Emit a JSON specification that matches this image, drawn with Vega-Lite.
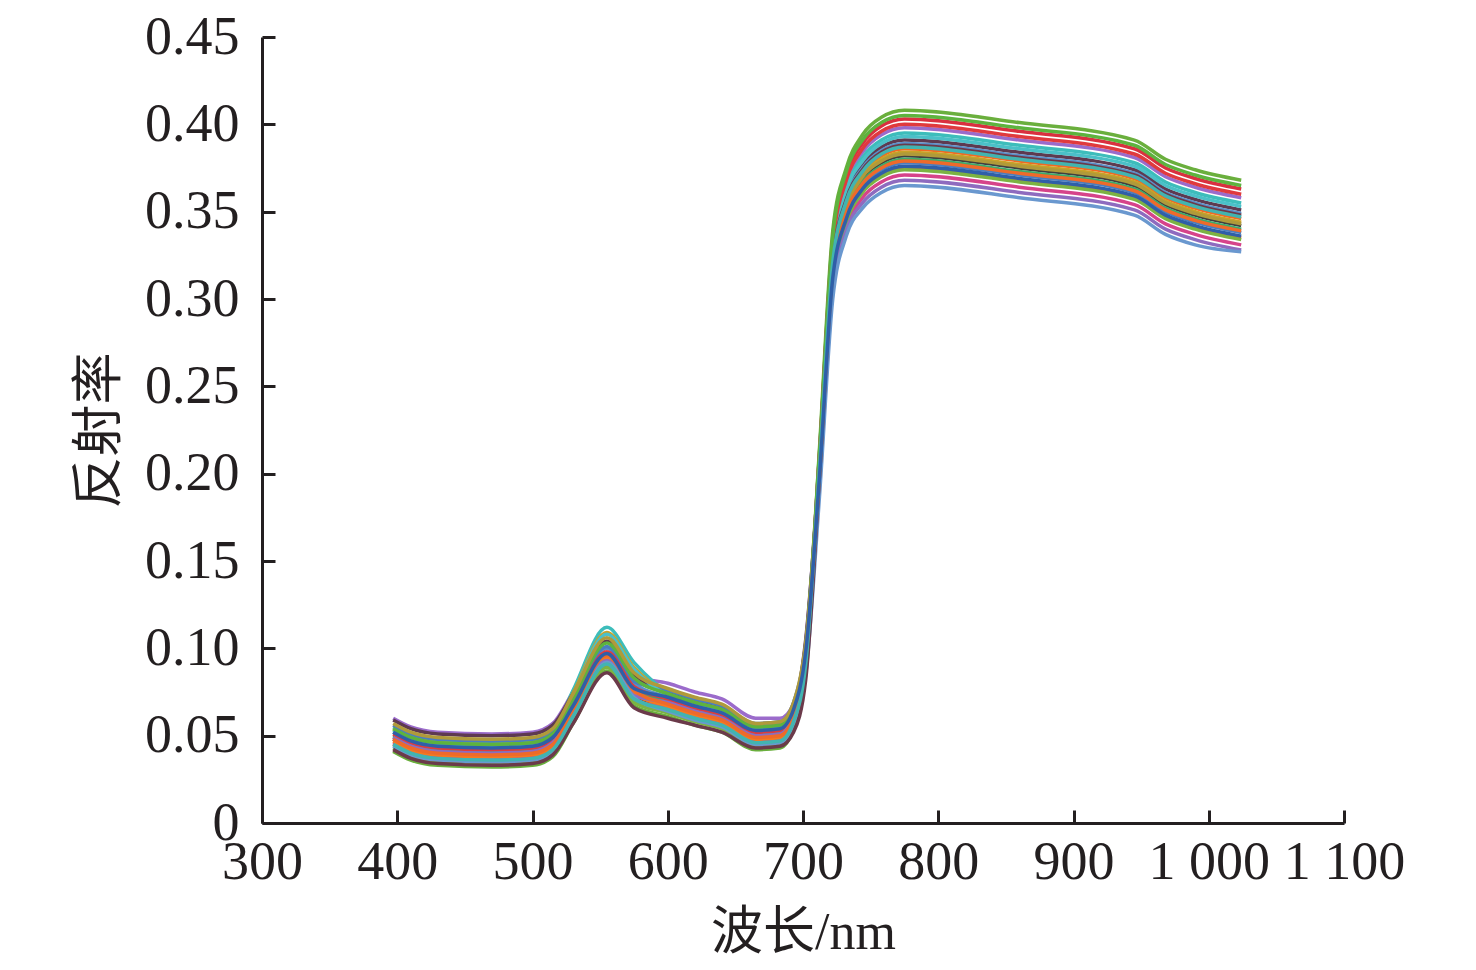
{
  "$schema": "https://vega.github.io/schema/vega-lite/v6.json",
  "description": "Reflectance spectra of leaf samples, 400-1024 nm.",
  "width": 1082,
  "height": 786,
  "autosize": "none",
  "padding": {"left": 262, "top": 37, "right": 132, "bottom": 147},
  "background": "white",
  "config": {
    "view": {"stroke": null},
    "axis": {
      "grid": false,
      "domainColor": "#231F20",
      "domainWidth": 3,
      "tickColor": "#231F20",
      "tickWidth": 3,
      "tickSize": -13,
      "labelFont": "Liberation Serif",
      "labelFontSize": 54,
      "labelColor": "#231F20",
      "titleFont": "Liberation Serif, Noto Sans CJK SC",
      "titleFontSize": 52,
      "titleFontWeight": "normal",
      "titleColor": "#231F20"
    }
  },
  "data": {
    "values": [
      {"c":"a","w":397,"r":0.041},{"c":"a","w":410,"r":0.036},{"c":"a","w":430,"r":0.033},{"c":"a","w":470,"r":0.032},{"c":"a","w":500,"r":0.033},{"c":"a","w":515,"r":0.038},{"c":"a","w":530,"r":0.057},{"c":"a","w":555,"r":0.087},{"c":"a","w":575,"r":0.067},{"c":"a","w":600,"r":0.061},{"c":"a","w":620,"r":0.056},{"c":"a","w":640,"r":0.052},{"c":"a","w":665,"r":0.042},{"c":"a","w":683,"r":0.043},{"c":"a","w":693,"r":0.054},{"c":"a","w":702,"r":0.087},{"c":"a","w":712,"r":0.212},{"c":"a","w":722,"r":0.339},{"c":"a","w":732,"r":0.375},{"c":"a","w":744,"r":0.394},{"c":"a","w":758,"r":0.404},{"c":"a","w":775,"r":0.408},{"c":"a","w":860,"r":0.401},{"c":"a","w":945,"r":0.391},{"c":"a","w":968,"r":0.380},{"c":"a","w":990,"r":0.374},{"c":"a","w":1024,"r":0.368},
      {"c":"b","w":397,"r":0.049},{"c":"b","w":410,"r":0.044},{"c":"b","w":430,"r":0.041},{"c":"b","w":470,"r":0.040},{"c":"b","w":500,"r":0.041},{"c":"b","w":515,"r":0.046},{"c":"b","w":530,"r":0.067},{"c":"b","w":555,"r":0.100},{"c":"b","w":575,"r":0.080},{"c":"b","w":600,"r":0.069},{"c":"b","w":620,"r":0.064},{"c":"b","w":640,"r":0.060},{"c":"b","w":665,"r":0.050},{"c":"b","w":683,"r":0.051},{"c":"b","w":693,"r":0.062},{"c":"b","w":702,"r":0.095},{"c":"b","w":712,"r":0.209},{"c":"b","w":722,"r":0.334},{"c":"b","w":732,"r":0.371},{"c":"b","w":744,"r":0.389},{"c":"b","w":758,"r":0.399},{"c":"b","w":775,"r":0.403},{"c":"b","w":860,"r":0.396},{"c":"b","w":945,"r":0.386},{"c":"b","w":968,"r":0.375},{"c":"b","w":990,"r":0.369},{"c":"b","w":1024,"r":0.363},
      {"c":"c","w":397,"r":0.060},{"c":"c","w":410,"r":0.055},{"c":"c","w":430,"r":0.052},{"c":"c","w":470,"r":0.051},{"c":"c","w":500,"r":0.052},{"c":"c","w":515,"r":0.057},{"c":"c","w":530,"r":0.075},{"c":"c","w":555,"r":0.104},{"c":"c","w":575,"r":0.084},{"c":"c","w":600,"r":0.080},{"c":"c","w":620,"r":0.075},{"c":"c","w":640,"r":0.071},{"c":"c","w":665,"r":0.060},{"c":"c","w":683,"r":0.060},{"c":"c","w":693,"r":0.068},{"c":"c","w":702,"r":0.103},{"c":"c","w":712,"r":0.207},{"c":"c","w":722,"r":0.330},{"c":"c","w":732,"r":0.366},{"c":"c","w":744,"r":0.384},{"c":"c","w":758,"r":0.394},{"c":"c","w":775,"r":0.398},{"c":"c","w":860,"r":0.391},{"c":"c","w":945,"r":0.381},{"c":"c","w":968,"r":0.370},{"c":"c","w":990,"r":0.364},{"c":"c","w":1024,"r":0.358},
      {"c":"d","w":397,"r":0.055},{"c":"d","w":410,"r":0.050},{"c":"d","w":430,"r":0.047},{"c":"d","w":470,"r":0.046},{"c":"d","w":500,"r":0.047},{"c":"d","w":515,"r":0.052},{"c":"d","w":530,"r":0.076},{"c":"d","w":555,"r":0.112},{"c":"d","w":575,"r":0.092},{"c":"d","w":600,"r":0.075},{"c":"d","w":620,"r":0.070},{"c":"d","w":640,"r":0.066},{"c":"d","w":665,"r":0.056},{"c":"d","w":683,"r":0.057},{"c":"d","w":693,"r":0.068},{"c":"d","w":702,"r":0.101},{"c":"d","w":712,"r":0.205},{"c":"d","w":722,"r":0.328},{"c":"d","w":732,"r":0.363},{"c":"d","w":744,"r":0.381},{"c":"d","w":758,"r":0.391},{"c":"d","w":775,"r":0.395},{"c":"d","w":860,"r":0.388},{"c":"d","w":945,"r":0.378},{"c":"d","w":968,"r":0.367},{"c":"d","w":990,"r":0.361},{"c":"d","w":1024,"r":0.355},
      {"c":"e","w":397,"r":0.059},{"c":"e","w":410,"r":0.054},{"c":"e","w":430,"r":0.051},{"c":"e","w":470,"r":0.050},{"c":"e","w":500,"r":0.051},{"c":"e","w":515,"r":0.056},{"c":"e","w":530,"r":0.074},{"c":"e","w":555,"r":0.104},{"c":"e","w":575,"r":0.084},{"c":"e","w":600,"r":0.076},{"c":"e","w":620,"r":0.071},{"c":"e","w":640,"r":0.066},{"c":"e","w":665,"r":0.055},{"c":"e","w":683,"r":0.056},{"c":"e","w":693,"r":0.066},{"c":"e","w":702,"r":0.105},{"c":"e","w":712,"r":0.203},{"c":"e","w":722,"r":0.325},{"c":"e","w":732,"r":0.360},{"c":"e","w":744,"r":0.377},{"c":"e","w":758,"r":0.387},{"c":"e","w":775,"r":0.391},{"c":"e","w":860,"r":0.384},{"c":"e","w":945,"r":0.374},{"c":"e","w":968,"r":0.363},{"c":"e","w":990,"r":0.357},{"c":"e","w":1024,"r":0.351},
      {"c":"f","w":397,"r":0.052},{"c":"f","w":410,"r":0.047},{"c":"f","w":430,"r":0.044},{"c":"f","w":470,"r":0.043},{"c":"f","w":500,"r":0.044},{"c":"f","w":515,"r":0.049},{"c":"f","w":530,"r":0.069},{"c":"f","w":555,"r":0.100},{"c":"f","w":575,"r":0.080},{"c":"f","w":600,"r":0.072},{"c":"f","w":620,"r":0.067},{"c":"f","w":640,"r":0.063},{"c":"f","w":665,"r":0.053},{"c":"f","w":683,"r":0.054},{"c":"f","w":693,"r":0.065},{"c":"f","w":702,"r":0.098},{"c":"f","w":712,"r":0.202},{"c":"f","w":722,"r":0.323},{"c":"f","w":732,"r":0.358},{"c":"f","w":744,"r":0.375},{"c":"f","w":758,"r":0.385},{"c":"f","w":775,"r":0.389},{"c":"f","w":860,"r":0.382},{"c":"f","w":945,"r":0.372},{"c":"f","w":968,"r":0.361},{"c":"f","w":990,"r":0.355},{"c":"f","w":1024,"r":0.349},
      {"c":"g","w":397,"r":0.045},{"c":"g","w":410,"r":0.040},{"c":"g","w":430,"r":0.037},{"c":"g","w":470,"r":0.036},{"c":"g","w":500,"r":0.037},{"c":"g","w":515,"r":0.042},{"c":"g","w":530,"r":0.063},{"c":"g","w":555,"r":0.095},{"c":"g","w":575,"r":0.075},{"c":"g","w":600,"r":0.065},{"c":"g","w":620,"r":0.060},{"c":"g","w":640,"r":0.056},{"c":"g","w":665,"r":0.046},{"c":"g","w":683,"r":0.047},{"c":"g","w":693,"r":0.058},{"c":"g","w":702,"r":0.091},{"c":"g","w":712,"r":0.201},{"c":"g","w":722,"r":0.320},{"c":"g","w":732,"r":0.355},{"c":"g","w":744,"r":0.372},{"c":"g","w":758,"r":0.382},{"c":"g","w":775,"r":0.386},{"c":"g","w":860,"r":0.379},{"c":"g","w":945,"r":0.369},{"c":"g","w":968,"r":0.358},{"c":"g","w":990,"r":0.352},{"c":"g","w":1024,"r":0.346},
      {"c":"h","w":397,"r":0.054},{"c":"h","w":410,"r":0.049},{"c":"h","w":430,"r":0.046},{"c":"h","w":470,"r":0.045},{"c":"h","w":500,"r":0.046},{"c":"h","w":515,"r":0.051},{"c":"h","w":530,"r":0.074},{"c":"h","w":555,"r":0.109},{"c":"h","w":575,"r":0.089},{"c":"h","w":600,"r":0.074},{"c":"h","w":620,"r":0.069},{"c":"h","w":640,"r":0.065},{"c":"h","w":665,"r":0.055},{"c":"h","w":683,"r":0.056},{"c":"h","w":693,"r":0.067},{"c":"h","w":702,"r":0.100},{"c":"h","w":712,"r":0.200},{"c":"h","w":722,"r":0.319},{"c":"h","w":732,"r":0.353},{"c":"h","w":744,"r":0.371},{"c":"h","w":758,"r":0.380},{"c":"h","w":775,"r":0.384},{"c":"h","w":860,"r":0.377},{"c":"h","w":945,"r":0.367},{"c":"h","w":968,"r":0.356},{"c":"h","w":990,"r":0.350},{"c":"h","w":1024,"r":0.344},
      {"c":"i","w":397,"r":0.048},{"c":"i","w":410,"r":0.043},{"c":"i","w":430,"r":0.040},{"c":"i","w":470,"r":0.039},{"c":"i","w":500,"r":0.040},{"c":"i","w":515,"r":0.045},{"c":"i","w":530,"r":0.063},{"c":"i","w":555,"r":0.092},{"c":"i","w":575,"r":0.072},{"c":"i","w":600,"r":0.068},{"c":"i","w":620,"r":0.063},{"c":"i","w":640,"r":0.059},{"c":"i","w":665,"r":0.049},{"c":"i","w":683,"r":0.050},{"c":"i","w":693,"r":0.061},{"c":"i","w":702,"r":0.094},{"c":"i","w":712,"r":0.199},{"c":"i","w":722,"r":0.317},{"c":"i","w":732,"r":0.351},{"c":"i","w":744,"r":0.369},{"c":"i","w":758,"r":0.378},{"c":"i","w":775,"r":0.382},{"c":"i","w":860,"r":0.375},{"c":"i","w":945,"r":0.365},{"c":"i","w":968,"r":0.354},{"c":"i","w":990,"r":0.348},{"c":"i","w":1024,"r":0.342},
      {"c":"j","w":397,"r":0.050},{"c":"j","w":410,"r":0.045},{"c":"j","w":430,"r":0.042},{"c":"j","w":470,"r":0.041},{"c":"j","w":500,"r":0.042},{"c":"j","w":515,"r":0.047},{"c":"j","w":530,"r":0.066},{"c":"j","w":555,"r":0.097},{"c":"j","w":575,"r":0.077},{"c":"j","w":600,"r":0.070},{"c":"j","w":620,"r":0.065},{"c":"j","w":640,"r":0.061},{"c":"j","w":665,"r":0.051},{"c":"j","w":683,"r":0.052},{"c":"j","w":693,"r":0.063},{"c":"j","w":702,"r":0.096},{"c":"j","w":712,"r":0.198},{"c":"j","w":722,"r":0.315},{"c":"j","w":732,"r":0.350},{"c":"j","w":744,"r":0.367},{"c":"j","w":758,"r":0.376},{"c":"j","w":775,"r":0.380},{"c":"j","w":860,"r":0.373},{"c":"j","w":945,"r":0.363},{"c":"j","w":968,"r":0.352},{"c":"j","w":990,"r":0.346},{"c":"j","w":1024,"r":0.340},
      {"c":"k","w":397,"r":0.046},{"c":"k","w":410,"r":0.041},{"c":"k","w":430,"r":0.038},{"c":"k","w":470,"r":0.037},{"c":"k","w":500,"r":0.038},{"c":"k","w":515,"r":0.043},{"c":"k","w":530,"r":0.061},{"c":"k","w":555,"r":0.090},{"c":"k","w":575,"r":0.070},{"c":"k","w":600,"r":0.066},{"c":"k","w":620,"r":0.061},{"c":"k","w":640,"r":0.057},{"c":"k","w":665,"r":0.047},{"c":"k","w":683,"r":0.048},{"c":"k","w":693,"r":0.059},{"c":"k","w":702,"r":0.092},{"c":"k","w":712,"r":0.193},{"c":"k","w":722,"r":0.308},{"c":"k","w":732,"r":0.341},{"c":"k","w":744,"r":0.358},{"c":"k","w":758,"r":0.367},{"c":"k","w":775,"r":0.371},{"c":"k","w":860,"r":0.364},{"c":"k","w":945,"r":0.354},{"c":"k","w":968,"r":0.343},{"c":"k","w":990,"r":0.337},{"c":"k","w":1024,"r":0.331},
      {"c":"l","w":397,"r":0.056},{"c":"l","w":410,"r":0.051},{"c":"l","w":430,"r":0.048},{"c":"l","w":470,"r":0.047},{"c":"l","w":500,"r":0.048},{"c":"l","w":515,"r":0.053},{"c":"l","w":530,"r":0.071},{"c":"l","w":555,"r":0.101},{"c":"l","w":575,"r":0.081},{"c":"l","w":600,"r":0.076},{"c":"l","w":620,"r":0.071},{"c":"l","w":640,"r":0.067},{"c":"l","w":665,"r":0.057},{"c":"l","w":683,"r":0.058},{"c":"l","w":693,"r":0.069},{"c":"l","w":702,"r":0.102},{"c":"l","w":712,"r":0.197},{"c":"l","w":722,"r":0.314},{"c":"l","w":732,"r":0.348},{"c":"l","w":744,"r":0.365},{"c":"l","w":758,"r":0.374},{"c":"l","w":775,"r":0.378},{"c":"l","w":860,"r":0.371},{"c":"l","w":945,"r":0.361},{"c":"l","w":968,"r":0.350},{"c":"l","w":990,"r":0.344},{"c":"l","w":1024,"r":0.338},
      {"c":"m","w":397,"r":0.047},{"c":"m","w":410,"r":0.042},{"c":"m","w":430,"r":0.039},{"c":"m","w":470,"r":0.038},{"c":"m","w":500,"r":0.039},{"c":"m","w":515,"r":0.044},{"c":"m","w":530,"r":0.063},{"c":"m","w":555,"r":0.094},{"c":"m","w":575,"r":0.074},{"c":"m","w":600,"r":0.067},{"c":"m","w":620,"r":0.062},{"c":"m","w":640,"r":0.058},{"c":"m","w":665,"r":0.048},{"c":"m","w":683,"r":0.049},{"c":"m","w":693,"r":0.060},{"c":"m","w":702,"r":0.093},{"c":"m","w":712,"r":0.195},{"c":"m","w":722,"r":0.311},{"c":"m","w":732,"r":0.345},{"c":"m","w":744,"r":0.362},{"c":"m","w":758,"r":0.371},{"c":"m","w":775,"r":0.375},{"c":"m","w":860,"r":0.368},{"c":"m","w":945,"r":0.358},{"c":"m","w":968,"r":0.347},{"c":"m","w":990,"r":0.341},{"c":"m","w":1024,"r":0.335},
      {"c":"n","w":397,"r":0.043},{"c":"n","w":410,"r":0.038},{"c":"n","w":430,"r":0.035},{"c":"n","w":470,"r":0.034},{"c":"n","w":500,"r":0.035},{"c":"n","w":515,"r":0.040},{"c":"n","w":530,"r":0.059},{"c":"n","w":555,"r":0.089},{"c":"n","w":575,"r":0.069},{"c":"n","w":600,"r":0.063},{"c":"n","w":620,"r":0.058},{"c":"n","w":640,"r":0.054},{"c":"n","w":665,"r":0.044},{"c":"n","w":683,"r":0.045},{"c":"n","w":693,"r":0.056},{"c":"n","w":702,"r":0.089},{"c":"n","w":712,"r":0.195},{"c":"n","w":722,"r":0.310},{"c":"n","w":732,"r":0.344},{"c":"n","w":744,"r":0.361},{"c":"n","w":758,"r":0.370},{"c":"n","w":775,"r":0.374},{"c":"n","w":860,"r":0.367},{"c":"n","w":945,"r":0.357},{"c":"n","w":968,"r":0.346},{"c":"n","w":990,"r":0.340},{"c":"n","w":1024,"r":0.334},
      {"c":"o","w":397,"r":0.053},{"c":"o","w":410,"r":0.048},{"c":"o","w":430,"r":0.045},{"c":"o","w":470,"r":0.044},{"c":"o","w":500,"r":0.045},{"c":"o","w":515,"r":0.050},{"c":"o","w":530,"r":0.073},{"c":"o","w":555,"r":0.108},{"c":"o","w":575,"r":0.088},{"c":"o","w":600,"r":0.073},{"c":"o","w":620,"r":0.068},{"c":"o","w":640,"r":0.064},{"c":"o","w":665,"r":0.054},{"c":"o","w":683,"r":0.055},{"c":"o","w":693,"r":0.066},{"c":"o","w":702,"r":0.099},{"c":"o","w":712,"r":0.204},{"c":"o","w":722,"r":0.326},{"c":"o","w":732,"r":0.362},{"c":"o","w":744,"r":0.379},{"c":"o","w":758,"r":0.389},{"c":"o","w":775,"r":0.393},{"c":"o","w":860,"r":0.386},{"c":"o","w":945,"r":0.376},{"c":"o","w":968,"r":0.365},{"c":"o","w":990,"r":0.359},{"c":"o","w":1024,"r":0.353},
      {"c":"p","w":397,"r":0.051},{"c":"p","w":410,"r":0.046},{"c":"p","w":430,"r":0.043},{"c":"p","w":470,"r":0.042},{"c":"p","w":500,"r":0.043},{"c":"p","w":515,"r":0.048},{"c":"p","w":530,"r":0.067},{"c":"p","w":555,"r":0.098},{"c":"p","w":575,"r":0.078},{"c":"p","w":600,"r":0.071},{"c":"p","w":620,"r":0.066},{"c":"p","w":640,"r":0.062},{"c":"p","w":665,"r":0.052},{"c":"p","w":683,"r":0.053},{"c":"p","w":693,"r":0.064},{"c":"p","w":702,"r":0.097},{"c":"p","w":712,"r":0.208},{"c":"p","w":722,"r":0.332},{"c":"p","w":732,"r":0.368},{"c":"p","w":744,"r":0.386},{"c":"p","w":758,"r":0.396},{"c":"p","w":775,"r":0.400},{"c":"p","w":860,"r":0.393},{"c":"p","w":945,"r":0.383},{"c":"p","w":968,"r":0.372},{"c":"p","w":990,"r":0.366},{"c":"p","w":1024,"r":0.360},
      {"c":"q","w":397,"r":0.049},{"c":"q","w":410,"r":0.044},{"c":"q","w":430,"r":0.041},{"c":"q","w":470,"r":0.040},{"c":"q","w":500,"r":0.041},{"c":"q","w":515,"r":0.046},{"c":"q","w":530,"r":0.064},{"c":"q","w":555,"r":0.093},{"c":"q","w":575,"r":0.073},{"c":"q","w":600,"r":0.069},{"c":"q","w":620,"r":0.064},{"c":"q","w":640,"r":0.060},{"c":"q","w":665,"r":0.050},{"c":"q","w":683,"r":0.051},{"c":"q","w":693,"r":0.062},{"c":"q","w":702,"r":0.095},{"c":"q","w":712,"r":0.192},{"c":"q","w":722,"r":0.305},{"c":"q","w":732,"r":0.339},{"c":"q","w":744,"r":0.355},{"c":"q","w":758,"r":0.364},{"c":"q","w":775,"r":0.368},{"c":"q","w":860,"r":0.361},{"c":"q","w":945,"r":0.351},{"c":"q","w":968,"r":0.340},{"c":"q","w":990,"r":0.334},{"c":"q","w":1024,"r":0.328},
      {"c":"r","w":397,"r":0.044},{"c":"r","w":410,"r":0.039},{"c":"r","w":430,"r":0.036},{"c":"r","w":470,"r":0.035},{"c":"r","w":500,"r":0.036},{"c":"r","w":515,"r":0.041},{"c":"r","w":530,"r":0.061},{"c":"r","w":555,"r":0.092},{"c":"r","w":575,"r":0.072},{"c":"r","w":600,"r":0.064},{"c":"r","w":620,"r":0.059},{"c":"r","w":640,"r":0.055},{"c":"r","w":665,"r":0.045},{"c":"r","w":683,"r":0.046},{"c":"r","w":693,"r":0.057},{"c":"r","w":702,"r":0.085},{"c":"r","w":712,"r":0.185},{"c":"r","w":722,"r":0.300},{"c":"r","w":732,"r":0.336},{"c":"r","w":744,"r":0.352},{"c":"r","w":758,"r":0.361},{"c":"r","w":775,"r":0.365},{"c":"r","w":860,"r":0.358},{"c":"r","w":945,"r":0.348},{"c":"r","w":968,"r":0.337},{"c":"r","w":990,"r":0.331},{"c":"r","w":1024,"r":0.327},
      {"c":"s","w":397,"r":0.042},{"c":"s","w":410,"r":0.037},{"c":"s","w":430,"r":0.034},{"c":"s","w":470,"r":0.033},{"c":"s","w":500,"r":0.034},{"c":"s","w":515,"r":0.039},{"c":"s","w":530,"r":0.057},{"c":"s","w":555,"r":0.086},{"c":"s","w":575,"r":0.066},{"c":"s","w":600,"r":0.060},{"c":"s","w":620,"r":0.056},{"c":"s","w":640,"r":0.052},{"c":"s","w":665,"r":0.043},{"c":"s","w":683,"r":0.044},{"c":"s","w":693,"r":0.052},{"c":"s","w":702,"r":0.082},{"c":"s","w":712,"r":0.196},{"c":"s","w":722,"r":0.322},{"c":"s","w":732,"r":0.357},{"c":"s","w":744,"r":0.374},{"c":"s","w":758,"r":0.384},{"c":"s","w":775,"r":0.388},{"c":"s","w":860,"r":0.381},{"c":"s","w":945,"r":0.371},{"c":"s","w":968,"r":0.360},{"c":"s","w":990,"r":0.354},{"c":"s","w":1024,"r":0.348},
      {"c":"t","w":397,"r":0.054},{"c":"t","w":410,"r":0.049},{"c":"t","w":430,"r":0.046},{"c":"t","w":470,"r":0.045},{"c":"t","w":500,"r":0.046},{"c":"t","w":515,"r":0.051},{"c":"t","w":530,"r":0.071},{"c":"t","w":555,"r":0.103},{"c":"t","w":575,"r":0.083},{"c":"t","w":600,"r":0.074},{"c":"t","w":620,"r":0.069},{"c":"t","w":640,"r":0.065},{"c":"t","w":665,"r":0.055},{"c":"t","w":683,"r":0.056},{"c":"t","w":693,"r":0.067},{"c":"t","w":702,"r":0.100},{"c":"t","w":712,"r":0.210},{"c":"t","w":722,"r":0.336},{"c":"t","w":732,"r":0.373},{"c":"t","w":744,"r":0.391},{"c":"t","w":758,"r":0.401},{"c":"t","w":775,"r":0.405},{"c":"t","w":860,"r":0.398},{"c":"t","w":945,"r":0.388},{"c":"t","w":968,"r":0.377},{"c":"t","w":990,"r":0.371},{"c":"t","w":1024,"r":0.365},
      {"c":"u","w":397,"r":0.057},{"c":"u","w":410,"r":0.052},{"c":"u","w":430,"r":0.049},{"c":"u","w":470,"r":0.048},{"c":"u","w":500,"r":0.049},{"c":"u","w":515,"r":0.054},{"c":"u","w":530,"r":0.074},{"c":"u","w":555,"r":0.106},{"c":"u","w":575,"r":0.086},{"c":"u","w":600,"r":0.077},{"c":"u","w":620,"r":0.072},{"c":"u","w":640,"r":0.068},{"c":"u","w":665,"r":0.057},{"c":"u","w":683,"r":0.058},{"c":"u","w":693,"r":0.069},{"c":"u","w":702,"r":0.103},{"c":"u","w":712,"r":0.199},{"c":"u","w":722,"r":0.318},{"c":"u","w":732,"r":0.352},{"c":"u","w":744,"r":0.370},{"c":"u","w":758,"r":0.379},{"c":"u","w":775,"r":0.383},{"c":"u","w":860,"r":0.376},{"c":"u","w":945,"r":0.366},{"c":"u","w":968,"r":0.355},{"c":"u","w":990,"r":0.349},{"c":"u","w":1024,"r":0.343},
      {"c":"v","w":397,"r":0.048},{"c":"v","w":410,"r":0.043},{"c":"v","w":430,"r":0.040},{"c":"v","w":470,"r":0.039},{"c":"v","w":500,"r":0.040},{"c":"v","w":515,"r":0.045},{"c":"v","w":530,"r":0.065},{"c":"v","w":555,"r":0.096},{"c":"v","w":575,"r":0.076},{"c":"v","w":600,"r":0.068},{"c":"v","w":620,"r":0.063},{"c":"v","w":640,"r":0.059},{"c":"v","w":665,"r":0.049},{"c":"v","w":683,"r":0.050},{"c":"v","w":693,"r":0.061},{"c":"v","w":702,"r":0.094},{"c":"v","w":712,"r":0.197},{"c":"v","w":722,"r":0.315},{"c":"v","w":732,"r":0.349},{"c":"v","w":744,"r":0.366},{"c":"v","w":758,"r":0.375},{"c":"v","w":775,"r":0.379},{"c":"v","w":860,"r":0.372},{"c":"v","w":945,"r":0.362},{"c":"v","w":968,"r":0.351},{"c":"v","w":990,"r":0.345},{"c":"v","w":1024,"r":0.339},
      {"c":"w","w":397,"r":0.045},{"c":"w","w":410,"r":0.040},{"c":"w","w":430,"r":0.037},{"c":"w","w":470,"r":0.036},{"c":"w","w":500,"r":0.037},{"c":"w","w":515,"r":0.042},{"c":"w","w":530,"r":0.061},{"c":"w","w":555,"r":0.091},{"c":"w","w":575,"r":0.071},{"c":"w","w":600,"r":0.065},{"c":"w","w":620,"r":0.060},{"c":"w","w":640,"r":0.056},{"c":"w","w":665,"r":0.046},{"c":"w","w":683,"r":0.047},{"c":"w","w":693,"r":0.058},{"c":"w","w":702,"r":0.091},{"c":"w","w":712,"r":0.201},{"c":"w","w":722,"r":0.321},{"c":"w","w":732,"r":0.356},{"c":"w","w":744,"r":0.373},{"c":"w","w":758,"r":0.383},{"c":"w","w":775,"r":0.387},{"c":"w","w":860,"r":0.380},{"c":"w","w":945,"r":0.370},{"c":"w","w":968,"r":0.359},{"c":"w","w":990,"r":0.353},{"c":"w","w":1024,"r":0.347},
      {"c":"x","w":397,"r":0.052},{"c":"x","w":410,"r":0.047},{"c":"x","w":430,"r":0.044},{"c":"x","w":470,"r":0.043},{"c":"x","w":500,"r":0.044},{"c":"x","w":515,"r":0.049},{"c":"x","w":530,"r":0.067},{"c":"x","w":555,"r":0.097},{"c":"x","w":575,"r":0.077},{"c":"x","w":600,"r":0.072},{"c":"x","w":620,"r":0.067},{"c":"x","w":640,"r":0.063},{"c":"x","w":665,"r":0.053},{"c":"x","w":683,"r":0.054},{"c":"x","w":693,"r":0.065},{"c":"x","w":702,"r":0.098},{"c":"x","w":712,"r":0.196},{"c":"x","w":722,"r":0.312},{"c":"x","w":732,"r":0.346},{"c":"x","w":744,"r":0.363},{"c":"x","w":758,"r":0.372},{"c":"x","w":775,"r":0.376},{"c":"x","w":860,"r":0.369},{"c":"x","w":945,"r":0.359},{"c":"x","w":968,"r":0.348},{"c":"x","w":990,"r":0.342},{"c":"x","w":1024,"r":0.336}
    ]
  },
  "mark": {"type": "line", "interpolate": "monotone", "strokeWidth": 3.5, "clip": true},
  "encoding": {
    "x": {
      "field": "w",
      "type": "quantitative",
      "scale": {"domain": [300, 1100], "nice": false, "zero": false},
      "axis": {
        "title": "波长/nm",
        "values": [300, 400, 500, 600, 700, 800, 900, 1000, 1100],
        "labelExpr": "datum.value == 1000 ? '1 000' : datum.value == 1100 ? '1 100' : datum.label",
        "labelOverlap": false,
        "labelFlush": false,
        "labelPadding": 25,
        "titlePadding": 18
      }
    },
    "y": {
      "field": "r",
      "type": "quantitative",
      "scale": {"domain": [0, 0.45], "nice": false},
      "axis": {
        "title": "反射率",
        "values": [0, 0.05, 0.1, 0.15, 0.2, 0.25, 0.3, 0.35, 0.4, 0.45],
        "labelExpr": "datum.value == 0 ? '0' : format(datum.value, '.2f')",
        "labelOverlap": false,
        "labelFlush": false,
        "labelPadding": 36,
        "titlePadding": 18
      }
    },
    "color": {
      "field": "c",
      "type": "nominal",
      "legend": null,
      "scale": {
        "domain": ["a","b","c","d","e","f","g","h","i","j","k","l","m","n","o","p","q","r","s","t","u","v","w","x"],
        "range": ["#6AAF3D","#D9303F","#9B6BCB","#3DBDBB","#5E3A50","#5B8FC9","#F26A21","#C9A227","#404040","#3DAA6B","#D6438A","#4A7EC0","#F47B20","#7CB342","#4BC0C8","#E03A3E","#8E6BBF","#6A98CF","#6B3A4A","#5DB33E","#B09A3A","#EE6A2A","#42B4B0","#2F5FA8"]
      }
    }
  }
}
